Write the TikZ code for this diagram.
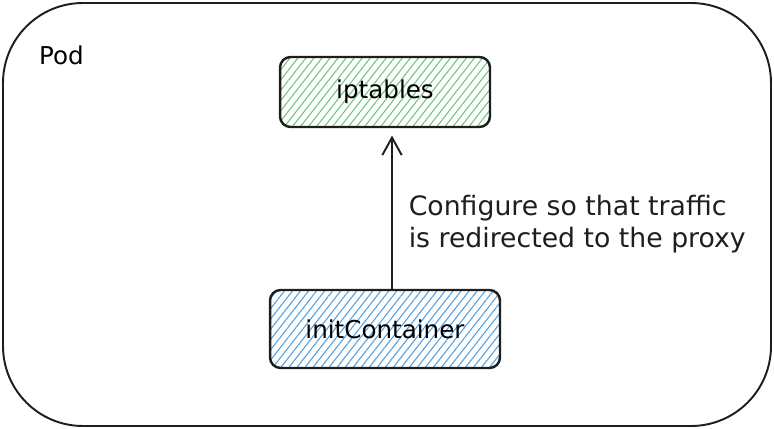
\documentclass[tikz,border=0pt]{standalone}
\usepackage{fontspec}
\setmainfont{DejaVu Sans}
\usetikzlibrary{arrows.meta,patterns.meta,positioning}
\definecolor{hatchgreen}{HTML}{6CC47E}
\definecolor{hatchblue}{HTML}{4F9FE3}
\definecolor{inkline}{HTML}{1E1E1E}
\tikzset{
  box/.style={draw=inkline,line width=1.4pt,rounded corners=6pt,
    font=\fontsize{14}{16}\selectfont},
  hatch/.style={pattern={Lines[angle=52,distance=3.6pt,line width=0.6pt]},
    pattern color=#1}
}
\begin{document}
\begin{tikzpicture}[x=0.02cm,y=-0.02cm]
        % Frame
        \useasboundingbox (0,0) rectangle (774,429);
        \draw[inkline,line width=1.1pt,rounded corners=1.6cm] (3,3) rectangle (771,426);
        \node[anchor=west,font=\fontsize{14}{16}\selectfont] (pod) at (33,55) {Pod};
        % Boxes
        \node[box,hatch=hatchgreen,minimum width=4.2cm,minimum height=1.4cm] (iptables) at (385,92) {iptables};
        \node[box,hatch=hatchblue,minimum width=4.6cm,minimum height=1.56cm] (init) at (385,329) {initContainer};
        % Arrow
        \draw[inkline,line width=1.1pt,-{Straight Barb[length=10pt,width=11pt]},shorten >=0.16cm]
          ([xshift=0.14cm]init.north) -- ([xshift=0.14cm]iptables.south)
          node[pos=0.40,anchor=west,xshift=0.2cm,align=left,
            font=\fontsize{15.2}{18}\selectfont] (note)
          {Configure so that traffic\\is redirected to the proxy};
      \end{tikzpicture}
\end{document}
